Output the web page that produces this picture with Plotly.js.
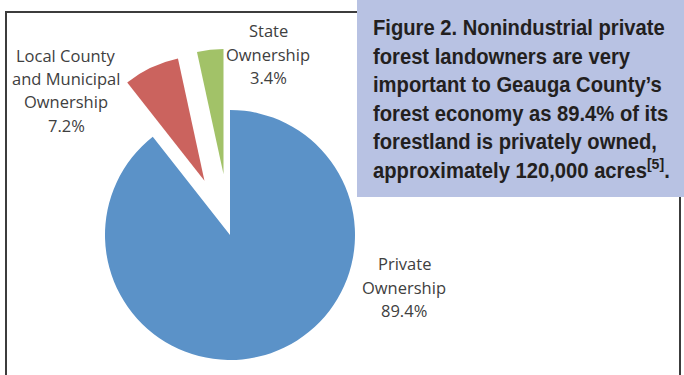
<!DOCTYPE html>
<html>
<head>
<meta charset="utf-8">
<script src="https://cdn.plot.ly/plotly-3.0.1.min.js"></script>
<style>
html, body { margin: 0; padding: 0; overflow: hidden; background: #ffffff; }
#chart { width: 684px; height: 600px; }
</style>
</head>
<body>
<div id="chart"></div>
<script>
// ---- data ----
const labels = ['Private Ownership', 'Local County and Municipal Ownership', 'State Ownership'];
const labelLines = [['Private', 'Ownership'], ['Local County', 'and Municipal', 'Ownership'], ['State', 'Ownership']];
const values = [89.4, 7.2, 3.4];
const pulls = [0, 0.48, 0.49];
const colors = ['#5b92c8', '#cb635e', '#a2c268'];
const captionLines = [
  'Figure 2. Nonindustrial private',
  'forest landowners are very',
  'important to Geauga County\u2019s',
  'forest economy as 89.4% of its',
  'forestland is privately owned,',
  'approximately 120,000 acres<sup>[5]</sup>.'
];

// ---- layout helpers (pixel positions in a 684 x 600 figure) ----
const W = 684, H = 600;
const px = x => x / W;
const py = y => (H - y) / H;

const cx = 230, cy = 235, r = 125;
const maxPull = Math.max(...pulls);
const half = r * (1 + maxPull);

const labelPos = [{x: 404, y: 264}, {x: 66, y: 55}, {x: 268, y: 31}];
const lineStep = 23.4;
const labelFont = {family: 'Open Sans, Noto Sans, sans-serif', size: 16.5, color: '#404040'};

const annotations = [];
labels.forEach((lab, i) => {
  const lines = labelLines[i].concat([values[i].toFixed(1) + '%']);
  lines.forEach((t, k) => {
    annotations.push({
      xref: 'paper', yref: 'paper',
      x: px(labelPos[i].x), y: py(labelPos[i].y + k * lineStep),
      xanchor: 'center', yanchor: 'middle',
      text: t, showarrow: false, font: labelFont
    });
  });
});

annotations.push({
  xref: 'paper', yref: 'paper',
  x: px(371), y: py(99),
  xanchor: 'left', yanchor: 'middle', align: 'left',
  text: captionLines.map(s => '<b>' + s + '</b>').join('<br>'),
  showarrow: false,
  font: {family: 'Liberation Sans, Arial, sans-serif', size: 22, color: '#231f20'}
});

const trace = {
  type: 'pie',
  labels: labels,
  values: values,
  pull: pulls,
  sort: false,
  direction: 'clockwise',
  rotation: 0,
  textinfo: 'none',
  hoverinfo: 'skip',
  showlegend: false,
  marker: {colors: colors, line: {width: 0}},
  domain: {x: [px(cx - half), px(cx + half)], y: [py(cy + half), py(cy - half)]}
};

const layout = {
  width: W, height: H,
  margin: {l: 0, r: 0, t: 0, b: 0},
  paper_bgcolor: '#ffffff',
  showlegend: false,
  shapes: [
    {type: 'rect', xref: 'paper', yref: 'paper', x0: px(6), x1: px(680), y0: py(450), y1: py(12),
     line: {color: '#3c3c3c', width: 2}, fillcolor: 'rgba(0,0,0,0)', layer: 'below'},
    {type: 'rect', xref: 'paper', yref: 'paper', x0: px(357), x1: px(684), y0: py(197), y1: py(0),
     line: {width: 0}, fillcolor: '#b8c2e3', layer: 'above'}
  ],
  annotations: annotations
};

Plotly.newPlot('chart', [trace], layout, {displayModeBar: false, staticPlot: true}).then(gd => {
  // condense the caption text horizontally (condensed bold face in the reference)
  const texts = gd.querySelectorAll('.annotation-text');
  const t = texts[texts.length - 1];
  const bb = t.getBBox();
  const s = 297 / bb.width;
  t.setAttribute('transform', 'translate(' + bb.x + ',0) scale(' + s + ',1) translate(' + (-bb.x) + ',0)');
});
</script>
</body>
</html>
